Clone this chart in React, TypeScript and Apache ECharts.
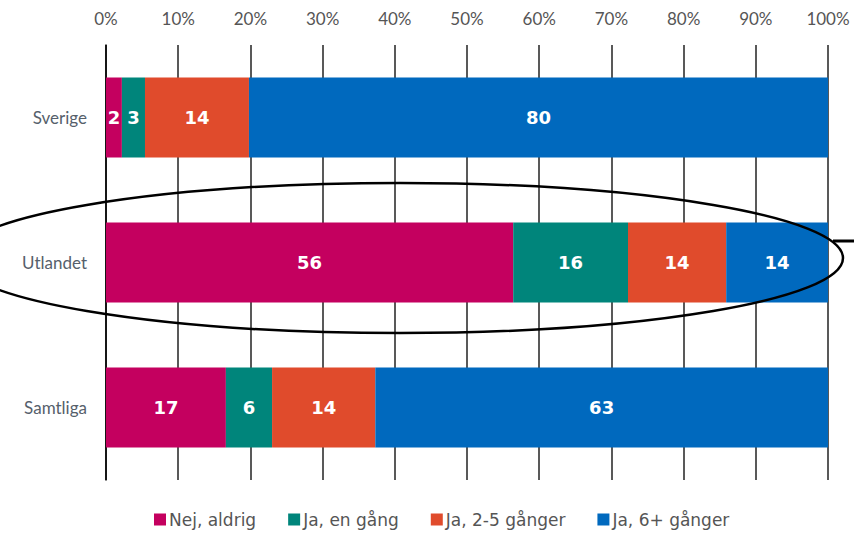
import React, { useEffect, useRef } from "react";
import * as echarts from "echarts";

const categories = ["Sverige", "Utlandet", "Samtliga"];
const seriesNames = ["Nej, aldrig", "Ja, en gång", "Ja, 2-5 gånger", "Ja, 6+ gånger"];
const nejAldrig = [2.2, 56.4, 16.6];
const jaEnGang = [3.2, 15.9, 6.4];
const ja2to5 = [14.4, 13.6, 14.3];
const ja6plus = [80.2, 14.1, 62.7];
const colors = ["#C4005F", "#00857B", "#E04B2C", "#0069BE"];
const xTicks = [0, 10, 20, 30, 40, 50, 60, 70, 80, 90, 100];

const FONT = "Lato, 'DejaVu Sans', sans-serif";
const WIDE = "'DejaVu Sans', sans-serif";

export default function App() {
  const ref = useRef<HTMLDivElement>(null);
  useEffect(() => {
    if (!ref.current) return;
    const chart = echarts.init(ref.current, null, { renderer: "svg" });
    const data = [nejAldrig, jaEnGang, ja2to5, ja6plus];
    chart.setOption({
      animation: false,
      textStyle: { fontFamily: FONT },
      grid: { left: 106, right: 26, top: 45, bottom: 53 },
      xAxis: {
        type: "value",
        position: "top",
        min: xTicks[0],
        max: xTicks[xTicks.length - 1],
        interval: 10,
        axisLine: { show: false },
        axisTick: { show: false },
        axisLabel: {
          formatter: (v: number) => v + "%",
          color: "#555",
          fontSize: 17,
          margin: 18,
          fontFamily: FONT,
        },
        splitLine: { show: true, lineStyle: { color: "#222", width: 1.5 } },
      },
      yAxis: {
        type: "category",
        inverse: true,
        data: categories,
        axisLine: { show: true, lineStyle: { color: "#000", width: 1.5 } },
        axisTick: { show: false },
        axisLabel: { color: "#56606b", fontSize: 17, margin: 19, fontFamily: FONT },
      },
      legend: {
        bottom: 0,
        left: 149,
        itemWidth: 12,
        itemHeight: 12,
        itemGap: 32,
        icon: "rect",
        textStyle: { color: "#555", fontSize: 17, fontFamily: WIDE, padding: [0, 0, 0, -2] },
        data: seriesNames,
      },
      series: seriesNames.map((name, i) => ({
        name,
        type: "bar",
        stack: "total",
        barWidth: 80,
        data: data[i],
        itemStyle: { color: colors[i] },
        label: {
          show: true,
          position: "inside",
          color: "#fff",
          fontWeight: "bold",
          fontSize: 18,
          fontFamily: WIDE,
          formatter: (p: any) => String(Math.round(p.value)),
        },
      })),
      graphic: [
        {
          type: "ellipse",
          shape: { cx: 400, cy: 258, rx: 443, ry: 75 },
          style: { fill: "none", stroke: "#000", lineWidth: 2.5 },
          z: 100,
        },
        {
          type: "line",
          shape: { x1: 833, y1: 241, x2: 854, y2: 241 },
          style: { stroke: "#000", lineWidth: 3 },
          z: 100,
        },
      ],
    });
    return () => chart.dispose();
  }, []);
  return <div ref={ref} style={{ width: 854, height: 533, position: "absolute", left: 0, top: 0 }} />;
}
